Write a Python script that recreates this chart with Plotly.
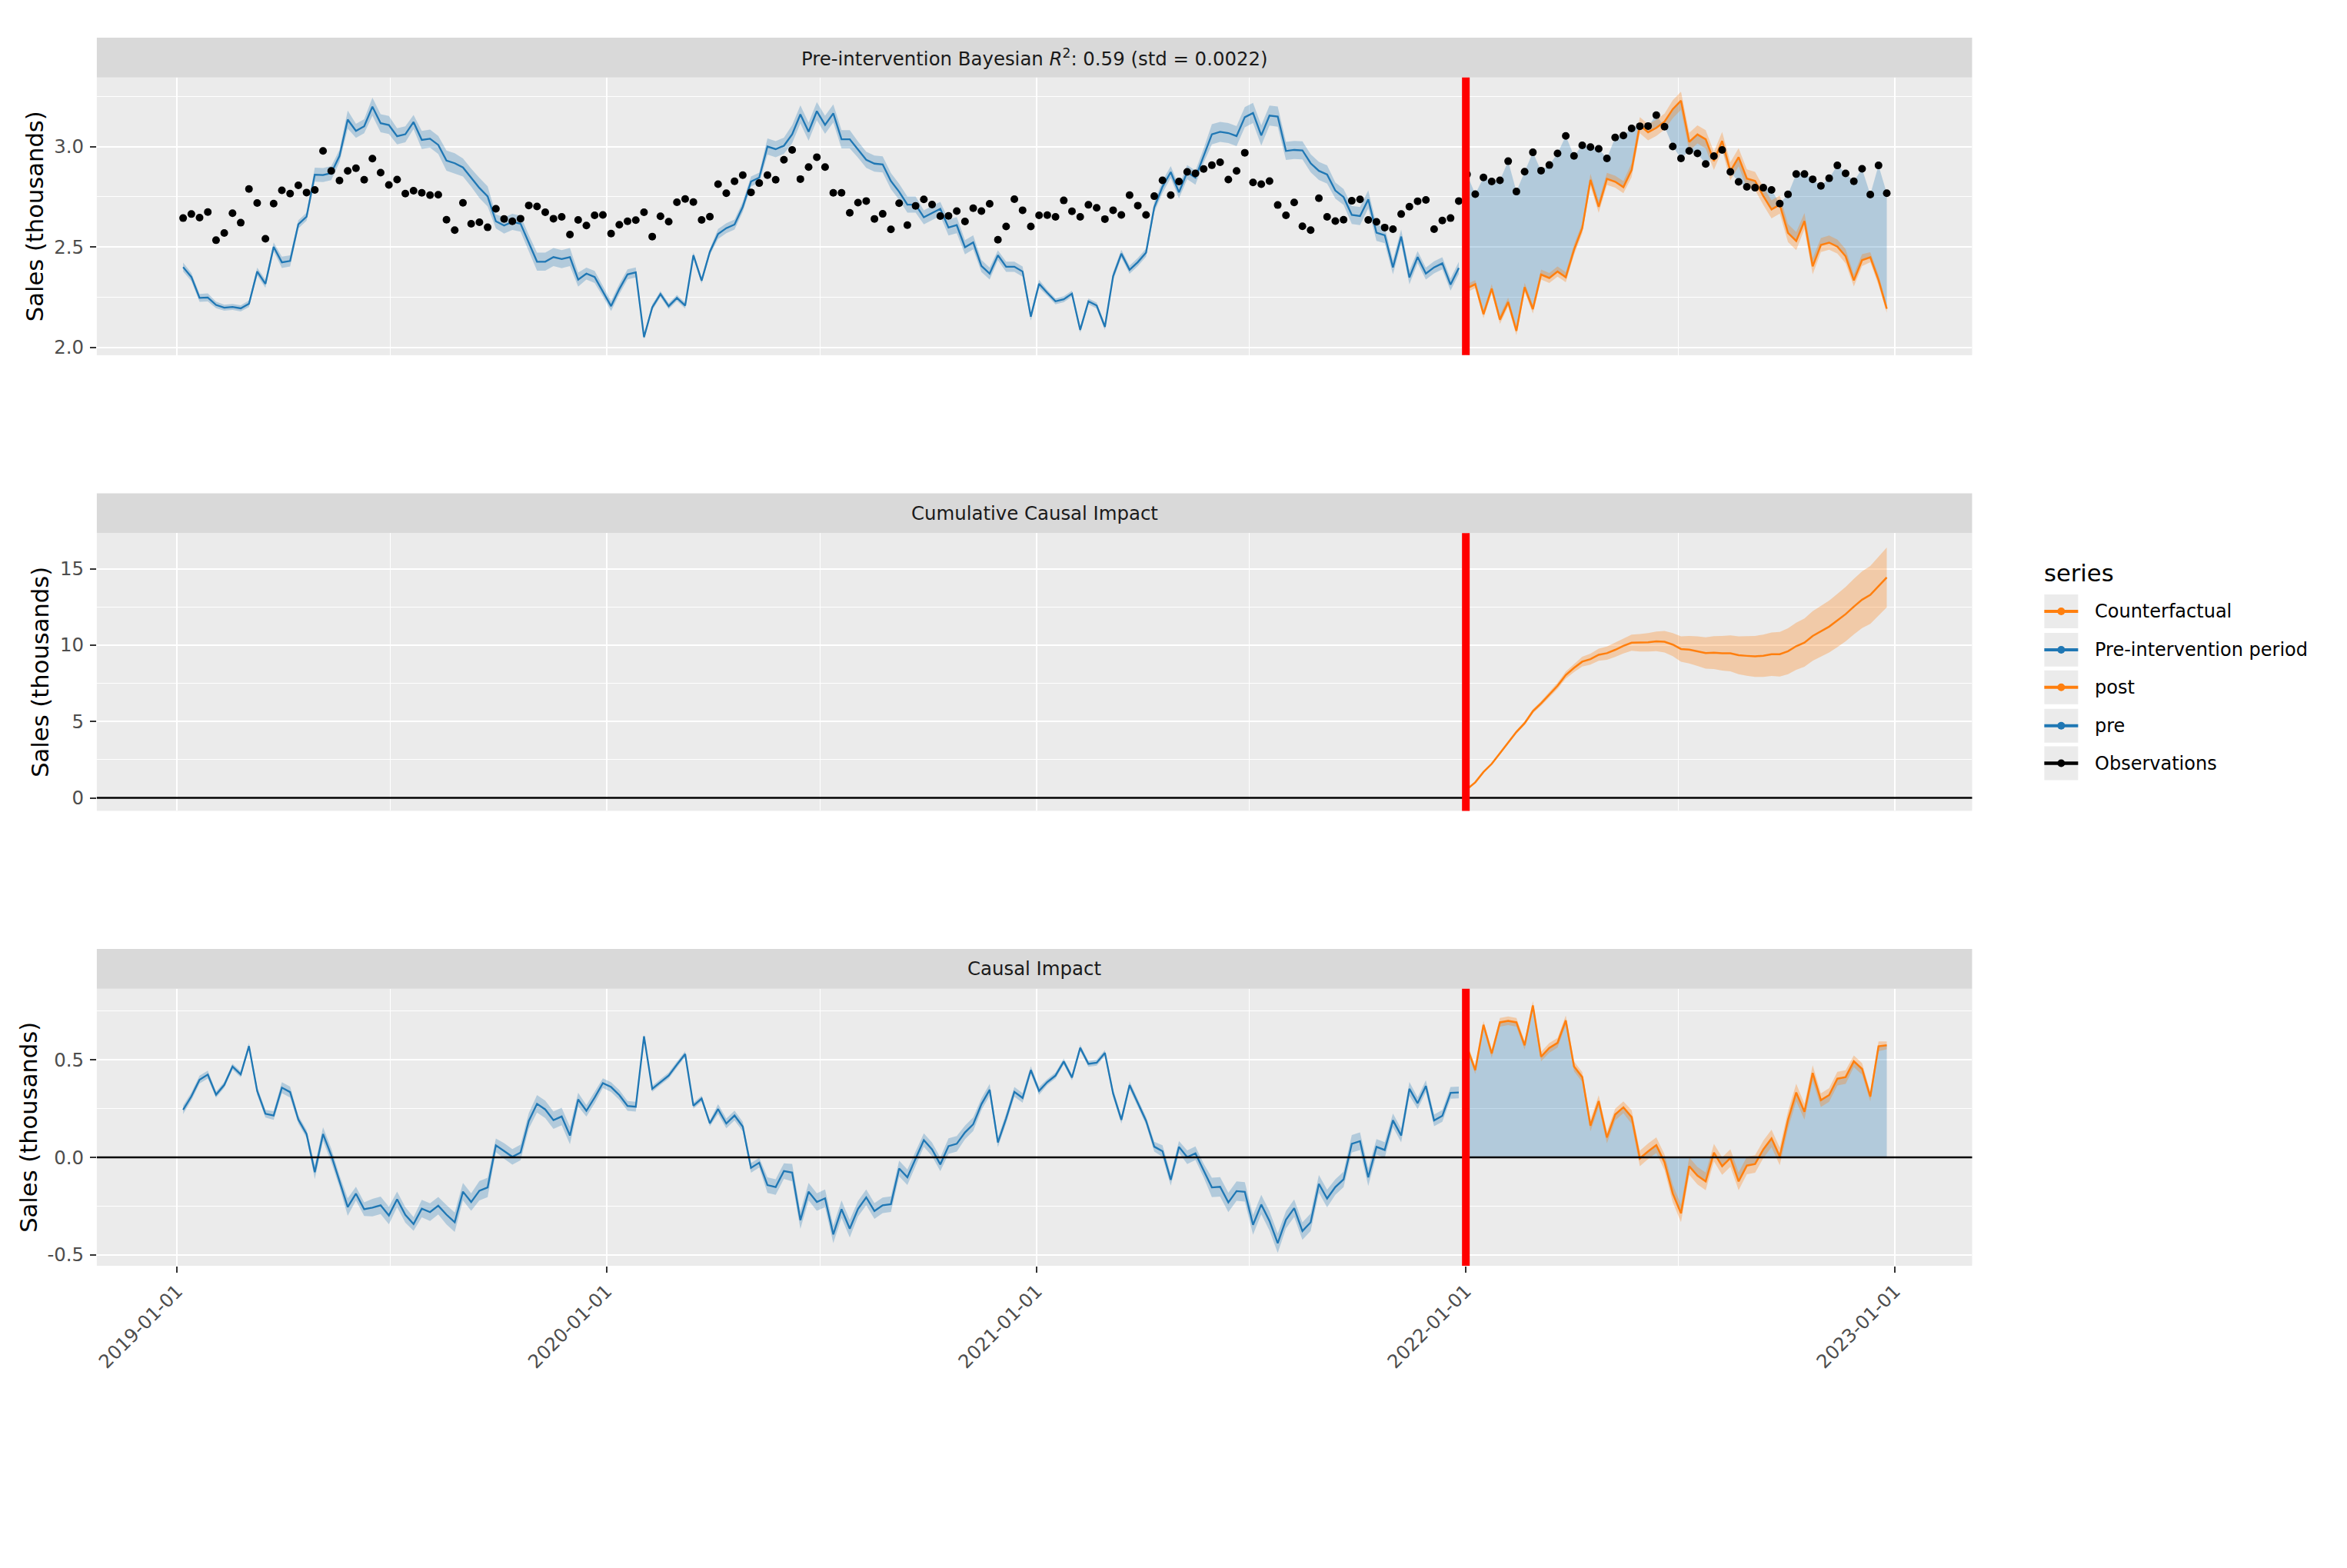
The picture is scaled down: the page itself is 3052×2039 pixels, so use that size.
import numpy as np
import pandas as pd
import plotly.graph_objects as go

# ---------------- data (thousands of sales, weekly) ----------------
start_date = "2019-01-06"
n_weeks = 208
n_pre = 156
intervention_date = "2022-01-01"

observed = [
    2.644, 2.664, 2.646, 2.674, 2.534, 2.570, 2.668, 2.621, 2.789, 2.719,
    2.541, 2.716, 2.782, 2.766, 2.807, 2.771, 2.784, 2.978, 2.879, 2.831,
    2.879, 2.892, 2.835, 2.940, 2.870, 2.809, 2.836, 2.766, 2.780, 2.770,
    2.758, 2.760, 2.636, 2.584,
    2.720, 2.616, 2.623, 2.598, 2.690, 2.640, 2.628, 2.641, 2.707, 2.702,
    2.673, 2.641, 2.650, 2.562, 2.635, 2.607, 2.658, 2.660, 2.567, 2.611,
    2.628, 2.634, 2.673, 2.552, 2.653, 2.626, 2.723, 2.739, 2.724, 2.635,
    2.651, 2.813, 2.768, 2.827, 2.858,
    2.772, 2.818, 2.858, 2.835, 2.934, 2.983, 2.838, 2.898, 2.947, 2.898,
    2.770, 2.770, 2.670, 2.721, 2.729, 2.640, 2.665, 2.588, 2.718, 2.609,
    2.705, 2.737, 2.711, 2.654, 2.655, 2.679, 2.627, 2.693, 2.679, 2.715,
    2.536, 2.602, 2.738, 2.683, 2.602, 2.658,
    2.659, 2.650, 2.732, 2.678, 2.650, 2.710, 2.695, 2.639, 2.683, 2.660,
    2.758, 2.706, 2.660, 2.753, 2.832, 2.758, 2.826, 2.874, 2.866, 2.888,
    2.907, 2.922, 2.836, 2.879, 2.969, 2.821, 2.813, 2.828, 2.709, 2.658,
    2.722, 2.603, 2.584, 2.743, 2.650,
    2.629, 2.636, 2.730, 2.737, 2.635, 2.625, 2.597, 2.589, 2.664, 2.701,
    2.728, 2.734, 2.589, 2.632, 2.644, 2.729, 2.861, 2.763, 2.846, 2.826,
    2.832, 2.927, 2.776, 2.875, 2.971, 2.880, 2.908, 2.966, 3.053, 2.953,
    3.006, 2.997, 2.989, 2.941, 3.045, 3.055,
    3.090, 3.101, 3.102, 3.156, 3.099, 3.000, 2.941, 2.978, 2.966, 2.913,
    2.952, 2.983, 2.874, 2.824, 2.799, 2.795, 2.795, 2.784, 2.716, 2.762,
    2.863, 2.863, 2.837, 2.804, 2.842, 2.906, 2.866, 2.827, 2.889, 2.761,
    2.906, 2.768,
]

# model prediction: pre-period fit (first 156) then post-period counterfactual (52)
predicted = [
    2.400, 2.351, 2.247, 2.249, 2.212, 2.198, 2.202, 2.195, 2.218, 2.378,
    2.317, 2.501, 2.424, 2.431, 2.613, 2.651, 2.860, 2.858, 2.868, 2.953,
    3.134, 3.078, 3.101, 3.198, 3.116, 3.107, 3.051, 3.061, 3.122, 3.033,
    3.039, 3.008, 2.930, 2.917,
    2.896, 2.845, 2.794, 2.752, 2.628, 2.607, 2.625, 2.616, 2.520, 2.427,
    2.427, 2.450, 2.440, 2.450, 2.338, 2.368, 2.351, 2.279, 2.206, 2.291,
    2.364, 2.374, 2.052, 2.200, 2.266, 2.206, 2.247, 2.209, 2.459, 2.333,
    2.476, 2.565, 2.594, 2.612, 2.700,
    2.826, 2.845, 3.000, 2.987, 3.004, 3.061, 3.160, 3.074, 3.176, 3.108,
    3.165, 3.036, 3.036, 2.985, 2.934, 2.915, 2.911, 2.828, 2.775, 2.711,
    2.711, 2.648, 2.670, 2.690, 2.597, 2.609, 2.499, 2.523, 2.406, 2.368,
    2.459, 2.402, 2.402, 2.378, 2.154, 2.317,
    2.272, 2.230, 2.240, 2.268, 2.088, 2.230, 2.209, 2.103, 2.355, 2.467,
    2.387, 2.425, 2.472, 2.698, 2.800, 2.873, 2.772, 2.873, 2.845, 2.955,
    3.061, 3.073, 3.067, 3.052, 3.146, 3.167, 3.055, 3.154, 3.149, 2.978,
    2.983, 2.981, 2.917, 2.879, 2.861,
    2.781, 2.749, 2.660, 2.654, 2.737, 2.571, 2.559, 2.399, 2.552, 2.349,
    2.450, 2.368, 2.399, 2.419, 2.313, 2.396,
    # post-period counterfactual
    2.295, 2.315, 2.166, 2.293, 2.139, 2.226, 2.083, 2.300, 2.191, 2.363,
    2.346, 2.378, 2.350, 2.486, 2.594, 2.834, 2.700, 2.839, 2.825, 2.798,
    2.883, 3.106, 3.071, 3.093, 3.124, 3.186, 3.228, 3.023, 3.060, 3.036,
    2.928, 3.028, 2.877, 2.947, 2.841, 2.829, 2.754, 2.687, 2.711, 2.570,
    2.530, 2.629, 2.404, 2.510, 2.522, 2.502, 2.454, 2.334, 2.435, 2.449,
    2.336, 2.193,
]

# half-width of the prediction credible band (thousands)
pred_band = [
    0.022, 0.020, 0.020, 0.020, 0.016, 0.015, 0.015, 0.015, 0.016, 0.020,
    0.020, 0.022, 0.028, 0.028, 0.020, 0.020, 0.035, 0.035, 0.035, 0.030,
    0.045, 0.035, 0.035, 0.045, 0.045, 0.045, 0.040, 0.040, 0.035, 0.045,
    0.045, 0.045, 0.050, 0.050, 0.045, 0.045, 0.050, 0.050, 0.035, 0.040,
    0.040, 0.040, 0.040, 0.045, 0.045, 0.045, 0.045, 0.045, 0.035, 0.030,
    0.030, 0.025, 0.025, 0.025, 0.025, 0.025, 0.010, 0.015, 0.015, 0.015,
    0.015, 0.015, 0.015, 0.015, 0.015, 0.025, 0.025, 0.025, 0.025, 0.025,
    0.025, 0.040, 0.040, 0.040, 0.045, 0.045, 0.045, 0.045, 0.045, 0.045,
    0.045, 0.045, 0.040, 0.040, 0.040, 0.040, 0.040, 0.040, 0.040, 0.040,
    0.035, 0.035, 0.035, 0.040, 0.040, 0.035, 0.035, 0.030, 0.030, 0.025,
    0.025, 0.025, 0.025, 0.020, 0.020, 0.015, 0.015, 0.015, 0.015, 0.015,
    0.015, 0.015, 0.015, 0.020, 0.020, 0.020, 0.020, 0.020, 0.025, 0.030,
    0.030, 0.030, 0.035, 0.035, 0.035, 0.050, 0.050, 0.050, 0.050, 0.050,
    0.050, 0.050, 0.050, 0.050, 0.045, 0.045, 0.045, 0.045, 0.045, 0.045,
    0.040, 0.040, 0.045, 0.045, 0.045, 0.040, 0.040, 0.035, 0.035, 0.035,
    0.030, 0.030, 0.030, 0.030, 0.030, 0.030,
    0.020, 0.020, 0.020, 0.022, 0.022, 0.022, 0.022, 0.022, 0.022, 0.025,
    0.025, 0.025, 0.025, 0.025, 0.025, 0.030, 0.030, 0.030, 0.030, 0.030,
    0.035, 0.040, 0.040, 0.040, 0.040, 0.045, 0.045, 0.045, 0.045, 0.045,
    0.045, 0.045, 0.045, 0.045, 0.045, 0.045, 0.045, 0.045, 0.045, 0.045,
    0.045, 0.040, 0.040, 0.035, 0.035, 0.035, 0.035, 0.030, 0.030, 0.025,
    0.025, 0.020,
]

# half-width of the cumulative-impact credible band (thousands)
cum_band = [
    0.05, 0.06, 0.07, 0.08, 0.09, 0.10, 0.11, 0.12, 0.13, 0.15,
    0.17, 0.20, 0.23, 0.27, 0.32, 0.36, 0.40, 0.43, 0.47, 0.50,
    0.53, 0.57, 0.60, 0.64, 0.70, 0.76, 0.83, 0.90, 0.97, 1.03,
    1.08, 1.13, 1.18, 1.24, 1.30, 1.34, 1.38, 1.42, 1.46, 1.50,
    1.54, 1.58, 1.62, 1.66, 1.70, 1.74, 1.78, 1.82, 1.86, 1.90,
    1.93, 1.96,
]

panel_titles = [
    "Pre-intervention Bayesian <i>R</i><sup>2</sup>: 0.59 (std = 0.0022)",
    "Cumulative Causal Impact",
    "Causal Impact",
]
legend_labels = ["Counterfactual", "Pre-intervention period", "post", "pre", "Observations"]
x_tick_labels = ["2019-01-01", "2020-01-01", "2021-01-01", "2022-01-01", "2023-01-01"]

# ---------------- derived ----------------
dates = pd.date_range(start_date, periods=n_weeks, freq="7D")
obs = np.array(observed)
pred = np.array(predicted)
band = np.array(pred_band)
impact = obs - pred
cum_impact = np.cumsum(impact[n_pre:])
cband = np.array(cum_band)

d_pre, d_post = dates[:n_pre], dates[n_pre:]

BLUE = "#1f77b4"
ORANGE = "#ff7f0e"
BLUE_FILL = "rgba(31,119,180,0.28)"
ORANGE_FILL = "rgba(255,127,14,0.30)"
FONT = "DejaVu Sans"
W, H = 3052, 2039


def fx(p):
    return p / W


def fy(p):
    return 1 - p / H


fig = go.Figure()


def band_traces(x, lo, hi, color, xa, ya):
    fig.add_trace(go.Scatter(x=x, y=lo, mode="lines", line=dict(width=0),
                             showlegend=False, hoverinfo="skip", xaxis=xa, yaxis=ya))
    fig.add_trace(go.Scatter(x=x, y=hi, mode="lines", line=dict(width=0),
                             fill="tonexty", fillcolor=color,
                             showlegend=False, hoverinfo="skip", xaxis=xa, yaxis=ya))


# ---- top panel ----
band_traces(d_pre, pred[:n_pre] - band[:n_pre], pred[:n_pre] + band[:n_pre], BLUE_FILL, "x", "y")
fig.add_trace(go.Scatter(x=d_pre, y=pred[:n_pre], mode="lines", line=dict(color=BLUE, width=2.3),
                         name="pre", showlegend=False, xaxis="x", yaxis="y"))
# fill between counterfactual and observations in the post period
fig.add_trace(go.Scatter(x=d_post, y=pred[n_pre:], mode="lines", line=dict(width=0),
                         showlegend=False, hoverinfo="skip", xaxis="x", yaxis="y"))
fig.add_trace(go.Scatter(x=d_post, y=obs[n_pre:], mode="lines", line=dict(width=0),
                         fill="tonexty", fillcolor=BLUE_FILL,
                         showlegend=False, hoverinfo="skip", xaxis="x", yaxis="y"))
band_traces(d_post, pred[n_pre:] - band[n_pre:], pred[n_pre:] + band[n_pre:], ORANGE_FILL, "x", "y")
fig.add_trace(go.Scatter(x=d_post, y=pred[n_pre:], mode="lines", line=dict(color=ORANGE, width=2.5),
                         name="Counterfactual", showlegend=False, xaxis="x", yaxis="y"))
fig.add_trace(go.Scatter(x=dates, y=obs, mode="markers",
                         marker=dict(color="black", size=10, line=dict(width=0)),
                         name="Observations", showlegend=False, xaxis="x", yaxis="y"))

# ---- middle panel ----
band_traces(d_post, cum_impact - cband, cum_impact + cband, ORANGE_FILL, "x2", "y2")
fig.add_trace(go.Scatter(x=d_post, y=cum_impact, mode="lines", line=dict(color=ORANGE, width=2.5),
                         name="post", showlegend=False, xaxis="x2", yaxis="y2"))

# ---- bottom panel ----
band_traces(d_pre, impact[:n_pre] - band[:n_pre], impact[:n_pre] + band[:n_pre], BLUE_FILL, "x3", "y3")
fig.add_trace(go.Scatter(x=d_pre, y=impact[:n_pre], mode="lines", line=dict(color=BLUE, width=2.3),
                         name="Pre-intervention period", showlegend=False, xaxis="x3", yaxis="y3"))
fig.add_trace(go.Scatter(x=d_post, y=impact[n_pre:], mode="lines", line=dict(width=0),
                         fill="tozeroy", fillcolor=BLUE_FILL,
                         showlegend=False, hoverinfo="skip", xaxis="x3", yaxis="y3"))
band_traces(d_post, impact[n_pre:] - band[n_pre:], impact[n_pre:] + band[n_pre:], ORANGE_FILL, "x3", "y3")
fig.add_trace(go.Scatter(x=d_post, y=impact[n_pre:], mode="lines", line=dict(color=ORANGE, width=2.5),
                         showlegend=False, xaxis="x3", yaxis="y3"))

# ---------------- layout ----------------
x_left, x_right = 123, 2564
xdom = [fx(x_left), fx(x_right)]
panels = [(101, 463), (695, 1057), (1289, 1650)]
strips = [(49, 101), (643, 695), (1237, 1289)]
xrange_ = ["2018-10-24 14:00", "2023-03-07 14:00"]

TICKFONT = dict(family=FONT, size=24.4, color="#4D4D4D")
GRID = dict(showgrid=True, gridcolor="white", gridwidth=2.4, zeroline=False, showline=False)
MINOR_X = dict(dtick="M6", tick0="2019-01-01", showgrid=True, gridcolor="white", gridwidth=1.2, ticks="")


def xaxis_cfg(anchor, labels):
    cfg = dict(domain=xdom, range=xrange_, type="date", anchor=anchor,
               tickmode="array",
               tickvals=pd.to_datetime(x_tick_labels),
               minor=MINOR_X, **GRID)
    if labels:
        cfg.update(ticktext=x_tick_labels,
                   ticks="outside", ticklen=8, tickwidth=2, tickcolor="#333333",
                   tickangle=-45, tickfont=TICKFONT, showticklabels=True)
    else:
        cfg.update(ticks="", showticklabels=False)
    return cfg


def yaxis_cfg(anchor, dom, rng, vals, texts, minor_dtick):
    return dict(domain=dom, range=rng, anchor=anchor, tickmode="array",
                tickvals=vals, ticktext=texts,
                ticks="outside", ticklen=8, tickwidth=2, tickcolor="#333333",
                tickfont=TICKFONT, ticklabelstandoff=3,
                minor=dict(dtick=minor_dtick, tick0=0, showgrid=True, gridcolor="white",
                           gridwidth=1.2, ticks=""),
                **GRID)


ydoms = [[fy(b), fy(t)] for t, b in panels]

fig.update_layout(
    width=W, height=H,
    margin=dict(l=0, r=0, t=0, b=0),
    paper_bgcolor="white", plot_bgcolor="#EBEBEB",
    font=dict(family=FONT, color="black"),
    showlegend=False,
    xaxis=xaxis_cfg("y", False),
    xaxis2=xaxis_cfg("y2", False),
    xaxis3=xaxis_cfg("y3", True),
    yaxis=yaxis_cfg("x", ydoms[0], [1.962, 3.3435], [2.0, 2.5, 3.0], ["2.0", "2.5", "3.0"], 0.25),
    yaxis2=yaxis_cfg("x2", ydoms[1], [-0.85, 17.33], [0, 5, 10, 15], ["0", "5", "10", "15"], 2.5),
    yaxis3=yaxis_cfg("x3", ydoms[2], [-0.556, 0.865], [-0.5, 0.0, 0.5], ["-0.5", "0.0", "0.5"], 0.25),
)

shapes = []
annotations = []

# strips with titles
for (t, b), title in zip(strips, panel_titles):
    shapes.append(dict(type="rect", xref="paper", yref="paper",
                       x0=xdom[0], x1=xdom[1], y0=fy(b), y1=fy(t),
                       fillcolor="#D9D9D9", line=dict(width=0), layer="below"))
    annotations.append(dict(text=title, xref="paper", yref="paper",
                            x=(xdom[0] + xdom[1]) / 2, y=fy((t + b) / 2),
                            xanchor="center", yanchor="middle", showarrow=False,
                            font=dict(family=FONT, size=24.4, color="#1A1A1A")))

# zero lines
for xa, ya in [("x2", "y2"), ("x3", "y3")]:
    shapes.append(dict(type="line", xref=f"{xa} domain", yref=ya, x0=0, x1=1, y0=0, y1=0,
                       line=dict(color="black", width=2.5), layer="above"))

# intervention lines
for xa, ya in [("x", "y"), ("x2", "y2"), ("x3", "y3")]:
    shapes.append(dict(type="line", xref=xa, yref=f"{ya} domain",
                       x0=intervention_date, x1=intervention_date, y0=0, y1=1,
                       line=dict(color="#FF0000", width=10), layer="above"))

# y-axis titles
for (t, b), xc in zip(panels, [42, 50, 35]):
    annotations.append(dict(text="Sales (thousands)", xref="paper", yref="paper",
                            x=fx(xc), y=fy((t + b) / 2), textangle=-90,
                            xanchor="center", yanchor="middle", showarrow=False,
                            font=dict(family=FONT, size=30.6, color="black")))

# legend (drawn manually to match keys)
annotations.append(dict(text="series", xref="paper", yref="paper", x=fx(2656), y=fy(747),
                        xanchor="left", yanchor="middle", showarrow=False,
                        font=dict(family=FONT, size=30.6, color="black")))
legend_colors = [ORANGE, BLUE, ORANGE, BLUE, "black"]
row_centers = [797, 847, 896, 946, 995]
for lab, col, yc in zip(legend_labels, legend_colors, row_centers):
    shapes.append(dict(type="rect", xref="paper", yref="paper",
                       x0=fx(2658), x1=fx(2702), y0=fy(yc + 22), y1=fy(yc - 22),
                       fillcolor="#EBEBEB", line=dict(width=0)))
    shapes.append(dict(type="line", xref="paper", yref="paper",
                       x0=fx(2658), x1=fx(2702), y0=fy(yc), y1=fy(yc),
                       line=dict(color=col, width=4.5 if col == "black" else 4)))
    shapes.append(dict(type="circle", xref="paper", yref="paper",
                       x0=fx(2675), x1=fx(2685), y0=fy(yc + 5), y1=fy(yc - 5),
                       fillcolor=col, line=dict(width=0)))
    annotations.append(dict(text=lab, xref="paper", yref="paper", x=fx(2722), y=fy(yc),
                            xanchor="left", yanchor="middle", showarrow=False,
                            font=dict(family=FONT, size=24, color="black")))

fig.update_layout(shapes=shapes, annotations=annotations)
fig.write_html("out.html")
